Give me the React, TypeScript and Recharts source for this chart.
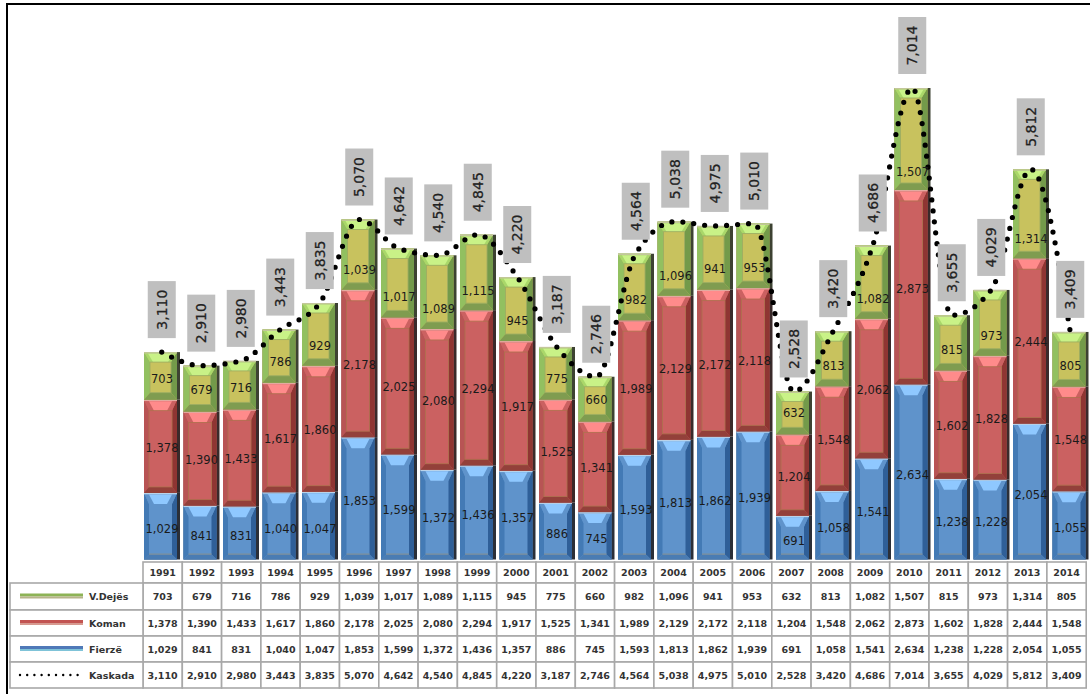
import React from "react";
import { ComposedChart, Bar, Line, XAxis, YAxis, LabelList } from "recharts";

const years = [1991,1992,1993,1994,1995,1996,1997,1998,1999,2000,2001,2002,2003,2004,2005,2006,2007,2008,2009,2010,2011,2012,2013,2014];
const vdejes = [703,679,716,786,929,1039,1017,1089,1115,945,775,660,982,1096,941,953,632,813,1082,1507,815,973,1314,805];
const koman = [1378,1390,1433,1617,1860,2178,2025,2080,2294,1917,1525,1341,1989,2129,2172,2118,1204,1548,2062,2873,1602,1828,2444,1548];
const fierze = [1029,841,831,1040,1047,1853,1599,1372,1436,1357,886,745,1593,1813,1862,1939,691,1058,1541,2634,1238,1228,2054,1055];
const kaskada = [3110,2910,2980,3443,3835,5070,4642,4540,4845,4220,3187,2746,4564,5038,4975,5010,2528,3420,4686,7014,3655,4029,5812,3409];

const data = years.map((year, i) => ({ year, vdejes: vdejes[i], koman: koman[i], fierze: fierze[i], kaskada: kaskada[i] }));

const fmt = (v: number) => v.toLocaleString("en-US");
const FONT = "'DejaVu Sans', sans-serif";
const GRID = "#a8a8a8";

const blue = { face: "#5f93cb", top: "#5f93cb", hi: "#8fc8ff", left: "#437ab5", right: "#2f5f98", bottom: "#4a7cb3", line: "#7f8f98", edge: "#b9d3ea", dark: "#2b2f38", rim: "", side: 5, t: 11, b: 5, inset: 5, trim: 3 };
const red = { face: "#cb6161", top: "#cb6161", hi: "#ff8b8b", left: "#b85454", right: "#8f3532", bottom: "#93403a", line: "#a3704c", edge: "#e2aaa0", dark: "#3a2a2a", rim: "#b0704f", side: 5, t: 11, b: 6, inset: 5, trim: 0 };
const green = { face: "#c8c25e", top: "#a9d86a", hi: "#c9f287", left: "#92c060", right: "#739a4a", bottom: "#7f9c50", line: "#8a9c5a", edge: "#c3c79a", dark: "#3d4232", rim: "#9fae62", side: 6, t: 10, b: 7, inset: 4, trim: 0 };

function makeBevel(c: typeof blue) {
  return function BevelBar(props: any) {
    const { x, y, width, height } = props;
    if (height <= 0) return null;
    const sh = 3;
    const w = width - sh;
    const { side, t, b, inset, trim } = c;
    const r = x + w;
    const bot = y + height - trim;
    return (
      <g>
        <rect x={x} y={y} width={width} height={height - trim} fill={c.dark} />
        <rect x={x} y={y} width={w} height={height - trim} fill={c.face} />
        <polygon points={`${x},${y} ${x + side},${y + t} ${x + side},${bot - b} ${x},${bot}`} fill={c.left} />
        <polygon points={`${r},${y} ${r - side},${y + t} ${r - side},${bot - b} ${r},${bot}`} fill={c.right} />
        <polygon points={`${x},${y} ${r},${y} ${r - side},${y + t} ${x + side},${y + t}`} fill={c.top} />
        <polygon points={`${x + inset},${y + 1.5} ${r - inset},${y + 1.5} ${r - inset - 5},${y + t} ${x + inset + 5},${y + t}`} fill={c.hi} />
        <polygon points={`${x},${bot} ${r},${bot} ${r - side},${bot - b} ${x + side},${bot - b}`} fill={c.bottom} />
        {c.rim ? (
          <rect x={x + side} y={y + t} width={w - 2 * side} height={bot - b - y - t} fill="none" stroke={c.rim} strokeWidth={0.9} />
        ) : (
          <rect x={x + side} y={bot - b - 1} width={w - 2 * side} height={1.2} fill={c.line} />
        )}
        <rect x={x} y={y} width={w} height={1.4} fill={c.edge} />
      </g>
    );
  };
}

const BlueBar = makeBevel(blue);
const RedBar = makeBevel(red);
const GreenBar = makeBevel(green);

const TABLE_LEFT = 143;
const COL_W = 39.3;
const KEY_LEFT = 10;
const ROW_Y = [562, 583, 610, 636, 662, 688];
const rows = [
  { name: "V.Dejës", values: vdejes, color: "#8db356", edge: "#b7b38a" },
  { name: "Koman", values: koman, color: "#c25452", edge: "#d79a90" },
  { name: "Fierzë", values: fierze, color: "#4f79b8", edge: "#7fc3d8" },
  { name: "Kaskada", values: kaskada, color: "", edge: "" },
];

function cellText(x: number, y: number, s: string | number, anchor: "middle" | "start" = "middle") {
  return (
    <text x={x} y={y} textAnchor={anchor} dominantBaseline="central" fontFamily={FONT} fontSize={9.5} fontWeight={700} fill="#333">
      {s}
    </text>
  );
}

function TableTick(props: any) {
  const i: number = props.index;
  const left = TABLE_LEFT + i * COL_W;
  const mid = left + COL_W / 2;
  return (
    <g>
      <rect x={left} y={ROW_Y[0]} width={COL_W} height={ROW_Y[1] - ROW_Y[0]} fill="#fff" stroke={GRID} strokeWidth={1.6} />
      {cellText(mid, (ROW_Y[0] + ROW_Y[1]) / 2, years[i])}
      {rows.map((row, r) => (
        <g key={row.name}>
          <rect x={left} y={ROW_Y[r + 1]} width={COL_W} height={ROW_Y[r + 2] - ROW_Y[r + 1]} fill="#fff" stroke={GRID} strokeWidth={1.6} />
          {cellText(mid, (ROW_Y[r + 1] + ROW_Y[r + 2]) / 2, fmt(row.values[i]))}
        </g>
      ))}
      {i === 0 &&
        rows.map((row, r) => {
          const cy = (ROW_Y[r + 1] + ROW_Y[r + 2]) / 2;
          return (
            <g key={row.name}>
              <rect x={KEY_LEFT} y={ROW_Y[r + 1]} width={TABLE_LEFT - KEY_LEFT} height={ROW_Y[r + 2] - ROW_Y[r + 1]} fill="#fff" stroke={GRID} strokeWidth={1.6} />
              {row.color ? (
                <g>
                  <rect x={20} y={cy - 3} width={63} height={3} fill={row.color} />
                  <rect x={20} y={cy} width={63} height={2} fill={row.edge} />
                </g>
              ) : (
                <line x1={20} x2={80} y1={cy} y2={cy} stroke="#000" strokeWidth={2.4} strokeDasharray="0 7.2" strokeLinecap="round" />
              )}
              {cellText(89, cy, row.name, "start")}
            </g>
          );
        })}
    </g>
  );
}

function TotalLabel(props: any) {
  const { x, y, value } = props;
  const bw = 28;
  const bh = 57;
  const gap = 14;
  const cy = y - gap - bh / 2;
  return (
    <g>
      <rect x={x - bw / 2} y={y - gap - bh} width={bw} height={bh} fill="#bfbfbf" />
      <text x={x} y={cy} textAnchor="middle" dominantBaseline="central" transform={`rotate(-90 ${x} ${cy})`} fontFamily={FONT} fontSize={14} fill="#222" stroke="#222" strokeWidth={0.25}>
        {fmt(value)}
      </text>
    </g>
  );
}

function makeBarLabel(shift: (v: number) => number) {
  return function BarLabel(props: any) {
    const { x, y, width, height, value } = props;
    return (
      <text x={x + width / 2} y={y + height / 2 + shift(Number(value))} textAnchor="middle" dominantBaseline="central" fontFamily={FONT} fontSize={11.5} fill="#1a1a1a">
        {fmt(Number(value))}
      </text>
    );
  };
}
const PlainLabel = makeBarLabel(() => 1.5);
const GreenLabel = makeBarLabel((v) => Math.max(0, (v - 632) * 0.0377));

export default function App() {
  return (
    <div style={{ position: "absolute", left: 0, top: 0, width: 1090, height: 694, overflow: "hidden", background: "#fff" }}>
      <div style={{ position: "absolute", left: 6, top: 3, width: 1090, height: 700, borderLeft: "2px solid #000", borderTop: "2px solid #000" }} />
      <div style={{ position: "absolute", left: 0, top: 0 }}>
        <ComposedChart width={1090} height={694} data={data} margin={{ top: 21.3, right: 0, bottom: 0, left: 142 }} barCategoryGap={0}>
          <XAxis dataKey="year" height={131.5} axisLine={false} tickLine={false} interval={0} tick={<TableTick />} />
          <YAxis hide domain={[0, 8000]} width={0} />
          <Bar dataKey="fierze" stackId="s" barSize={36} shape={<BlueBar />} isAnimationActive={false}>
            <LabelList dataKey="fierze" content={<PlainLabel />} />
          </Bar>
          <Bar dataKey="koman" stackId="s" barSize={36} shape={<RedBar />} isAnimationActive={false}>
            <LabelList dataKey="koman" content={<PlainLabel />} />
          </Bar>
          <Bar dataKey="vdejes" stackId="s" barSize={36} shape={<GreenBar />} isAnimationActive={false}>
            <LabelList dataKey="vdejes" content={<GreenLabel />} />
          </Bar>
          <Line dataKey="kaskada" type="monotone" stroke="#000" strokeWidth={5.2} strokeDasharray="0 11" strokeLinecap="round" dot={false} activeDot={false} isAnimationActive={false}>
            <LabelList dataKey="kaskada" content={<TotalLabel />} />
          </Line>
        </ComposedChart>
      </div>
    </div>
  );
}
